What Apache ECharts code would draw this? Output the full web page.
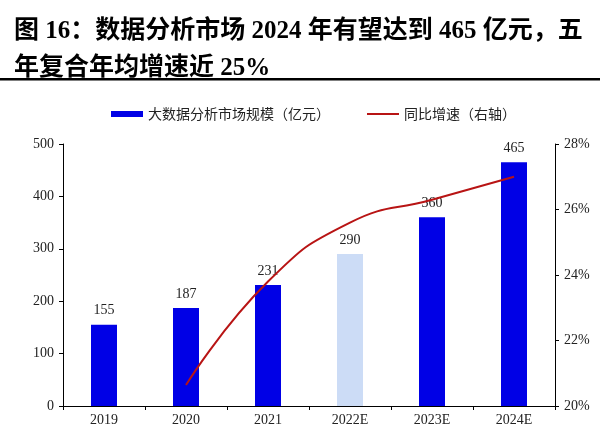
<!DOCTYPE html>
<html><head><meta charset="utf-8">
<script src="https://cdn.jsdelivr.net/npm/echarts@6/dist/echarts.min.js"></script>
<style>html,body{margin:0;padding:0;background:#fff}#c{width:600px;height:438px}</style>
</head><body><div id="c"></div>
<script>
const categories = ['2019','2020','2021','2022E','2023E','2024E'];
const marketSize = [155,187,231,290,360,465];
const growthRate = [null,20.64,23.8,25.6,26.3,27.0];
const leftTicks = {min:0,max:500,interval:100};
const rightTicks = {min:20,max:28,interval:2};

const chart = echarts.init(document.getElementById('c'));
const serif = 'Liberation Serif, "Times New Roman", serif';
chart.setOption({
  animation:false,
  backgroundColor:'#fff',
  title:{
    text:'图 16：数据分析市场 2024 年有望达到 465 亿元，五\n年复合年均增速近 25%',
    left:9, top:8,
    textStyle:{fontFamily:'"Liberation Serif","Noto Sans CJK SC"',fontWeight:'bold',fontSize:25,lineHeight:37,color:'#000'}
  },
  graphic:[{type:'rect',shape:{x:0,y:78,width:600,height:2.5},style:{fill:'#000'}}],
  legend:{
    top:102, left:106, itemGap:36, itemWidth:32, itemHeight:6,
    textStyle:{fontFamily:'"Noto Sans CJK SC"',fontSize:14,color:'#222'},
    data:[{name:'大数据分析市场规模（亿元）',icon:'rect'},{name:'同比增速（右轴）',itemStyle:{opacity:0}}]
  },
  grid:{left:63,right:45,top:144,bottom:32},
  xAxis:{
    type:'category', data:categories,
    axisLine:{lineStyle:{color:'#000',width:1}},
    axisTick:{show:true,lineStyle:{color:'#000'},length:4},
    axisLabel:{fontFamily:serif,fontSize:14,color:'#222',margin:7}
  },
  yAxis:[{
    type:'value', min:leftTicks.min, max:leftTicks.max, interval:leftTicks.interval,
    axisLine:{show:true,lineStyle:{color:'#000'}},
    axisTick:{show:true,length:4,lineStyle:{color:'#000'}},
    splitLine:{show:false},
    axisLabel:{fontFamily:serif,fontSize:14,color:'#222',margin:9}
  },{
    type:'value', min:rightTicks.min, max:rightTicks.max, interval:rightTicks.interval,
    position:'right',
    axisLine:{show:true,lineStyle:{color:'#000'}},
    axisTick:{show:true,length:4,lineStyle:{color:'#000'}},
    splitLine:{show:false},
    axisLabel:{fontFamily:serif,fontSize:14,color:'#222',margin:9,formatter:'{value}%'}
  }],
  series:[{
    name:'大数据分析市场规模（亿元）', type:'bar', barWidth:26,
    data:marketSize.map((v,i)=>({value:v,itemStyle:{color:categories[i]==='2022E'?'#CCDCF6':'#0000E6'}})),
    itemStyle:{color:'#0000E6'},
    label:{show:true,position:'top',distance:7,fontFamily:serif,fontSize:14,color:'#222'}
  },{
    name:'同比增速（右轴）', type:'line', yAxisIndex:1, smooth:true,
    symbol:'none', data:growthRate, connectNulls:false,
    lineStyle:{color:'#B81414',width:2},
    itemStyle:{color:'#B81414'}
  }]
});
</script></body></html>
